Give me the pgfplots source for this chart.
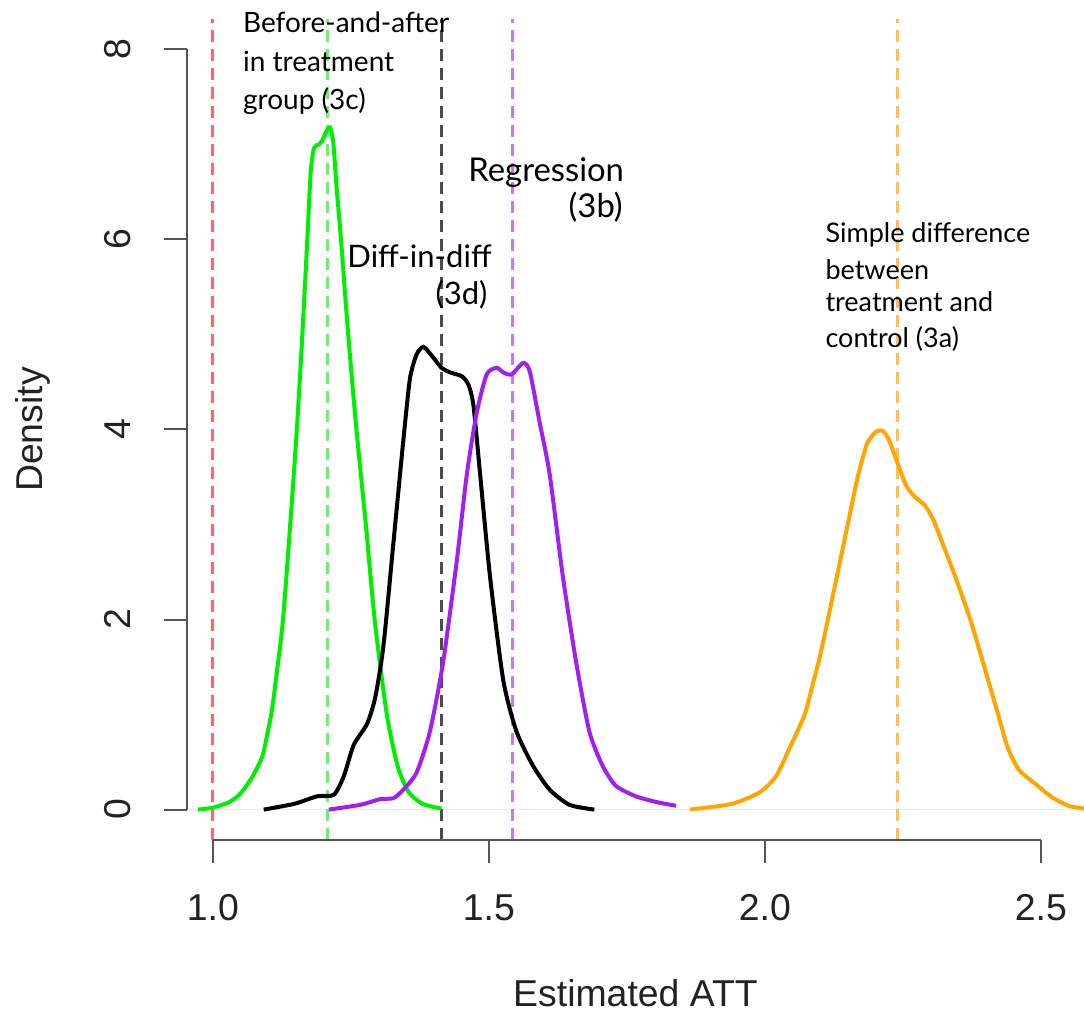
\documentclass[border=0pt]{standalone}
\usepackage{fontspec}
\setmainfont{Liberation Sans}
\newfontfamily\gill{Lato}
\usepackage{pgfplots}
\pgfplotsset{compat=1.18}
\definecolor{rgreen}{HTML}{00EE00}
\definecolor{rpurple}{HTML}{A020F0}
\definecolor{rorange}{HTML}{FFA500}
\definecolor{rred}{HTML}{FF0000}
\definecolor{axgray}{HTML}{555555}
\definecolor{txt}{HTML}{222222}

\begin{document}
\begin{tikzpicture}
\begin{axis}[
  scale only axis, width=448.5pt, height=410.5pt,
  xmin=0.953, xmax=2.578, ymin=-0.32, ymax=8.32,
  axis x line*=bottom, axis y line*=left,
  axis line style={draw=none},
  xtick={1,1.5,2,2.5}, xticklabels={1.0,1.5,2.0,2.5},
  ytick={0,2,4,6,8}, yticklabels={0,2,4,6,8},
  tick align=outside, major tick length=11.5pt,
  tick style={axgray, line width=1pt},
  ticklabel style={font=\fontsize{18.7}{22}\selectfont, text=txt, inner sep=0pt},
  xticklabel style={anchor=base, yshift=-29pt},
  yticklabel style={xshift=-16.5pt, rotate=90, anchor=base},
  xlabel={Estimated ATT}, ylabel={Density},
  label style={font=\fontsize{18.7}{22}\selectfont, text=txt, inner sep=0pt},
  xlabel style={at={([yshift=-83.5pt]rel axis cs:0.5,0)}, anchor=base},
  ylabel style={at={([xshift=-72pt]rel axis cs:0,0.5)}, rotate=0, anchor=base},
  clip mode=individual,
]
% baseline of the density plots
\addplot[black!8, line width=0.8pt] coordinates {(0.953,0) (2.578,0)};

% vertical reference lines
\addplot[rred, opacity=0.6, line width=1.5pt, dash pattern=on 6pt off 3.5pt] coordinates {(1.0,-0.32) (1.0,8.32)};
\addplot[rgreen, opacity=0.6, line width=1.5pt, dash pattern=on 6pt off 3.5pt] coordinates {(1.208,-0.32) (1.208,8.32)};
\addplot[black, opacity=0.7, line width=1.5pt, dash pattern=on 6pt off 3.5pt] coordinates {(1.414,-0.32) (1.414,8.32)};
\addplot[rpurple, opacity=0.6, line width=1.5pt, dash pattern=on 6pt off 3.5pt] coordinates {(1.542,-0.32) (1.542,8.32)};
\addplot[rorange, opacity=0.7, line width=1.5pt, dash pattern=on 6pt off 3.5pt] coordinates {(2.241,-0.32) (2.241,8.32)};

% before-and-after (3c)
\addplot[rgreen, line width=2pt, smooth, tension=0.4] coordinates {
(0.973,0) (1.0,0.02) (1.03,0.08) (1.05,0.17) (1.07,0.33) (1.089,0.55)
(1.098,0.78) (1.107,1.05) (1.117,1.5) (1.127,2.0) (1.14,3.0) (1.152,4.0)
(1.162,5.0) (1.171,6.0) (1.177,6.7) (1.183,6.96) (1.192,7.0) (1.198,7.04)
(1.205,7.13) (1.212,7.18) (1.218,7.02) (1.224,6.55) (1.232,6.0) (1.245,5.0)
(1.26,4.0) (1.277,3.0) (1.293,2.0) (1.315,1.0) (1.335,0.45) (1.355,0.18)
(1.38,0.06) (1.414,0.01)};

% diff-in-diff (3d)
\addplot[black, line width=2pt, smooth, tension=0.4] coordinates {
(1.092,0) (1.147,0.06) (1.189,0.14) (1.219,0.155) (1.237,0.35) (1.255,0.68)
(1.279,0.90) (1.294,1.18) (1.309,1.73) (1.327,2.81) (1.345,3.89) (1.357,4.54)
(1.369,4.79) (1.381,4.87) (1.396,4.78) (1.414,4.65) (1.430,4.60) (1.451,4.56)
(1.463,4.47) (1.472,4.25) (1.484,3.53) (1.502,2.45) (1.526,1.36) (1.550,0.82)
(1.580,0.46) (1.610,0.21) (1.646,0.05) (1.691,0)};

% regression (3b)
\addplot[rpurple, line width=2pt, smooth, tension=0.4] coordinates {
(1.210,0) (1.267,0.05) (1.303,0.11) (1.327,0.12) (1.345,0.21) (1.369,0.39)
(1.393,0.82) (1.417,1.55) (1.442,2.63) (1.460,3.53) (1.478,4.18) (1.496,4.58)
(1.514,4.65) (1.526,4.60) (1.541,4.58) (1.562,4.70) (1.574,4.61) (1.592,4.07)
(1.610,3.53) (1.634,2.45) (1.658,1.55) (1.682,0.82) (1.706,0.46) (1.730,0.25)
(1.766,0.14) (1.803,0.08) (1.839,0.04)};

% simple difference (3a)
\addplot[rorange, line width=2pt, smooth, tension=0.4] coordinates {
(1.864,0) (1.94,0.06) (1.99,0.18) (2.02,0.35) (2.045,0.65) (2.072,1.0)
(2.088,1.35) (2.10,1.62) (2.114,2.0) (2.132,2.5) (2.150,3.0) (2.168,3.5)
(2.185,3.85) (2.200,3.97) (2.212,3.99) (2.224,3.9) (2.24,3.65) (2.255,3.42)
(2.27,3.3) (2.29,3.2) (2.305,3.05) (2.322,2.8) (2.348,2.4) (2.372,2.0)
(2.395,1.55) (2.42,1.05) (2.44,0.65) (2.46,0.42) (2.49,0.27) (2.52,0.13)
(2.55,0.04) (2.578,0.01)};

% annotations
\begin{scope}[every node/.style={inner sep=0pt, text=black}]
\node[anchor=base west, font=\gill\fontsize{14}{16}\selectfont] at (axis cs:1.054,8.177) {Before-and-after};
\node[anchor=base west, font=\gill\fontsize{14}{16}\selectfont] at (axis cs:1.054,7.766) {in treatment};
\node[anchor=base west, font=\gill\fontsize{14}{16}\selectfont] at (axis cs:1.054,7.366) {group (3c)};
\node[anchor=base west, font=\gill\fontsize{16.4}{19}\selectfont] at (axis cs:1.462,6.607) {Regression};
\node[anchor=base east, font=\gill\fontsize{16.4}{19}\selectfont] at (axis cs:1.743,6.228) {(3b)};
\node[anchor=base west, font=\gill\fontsize{15.5}{18}\selectfont] at (axis cs:1.243,5.701) {Diff-in-diff};
\node[anchor=base east, font=\gill\fontsize{15.5}{18}\selectfont] at (axis cs:1.498,5.311) {(3d)};
\node[anchor=base west, font=\gill\fontsize{13.5}{16}\selectfont] at (axis cs:2.109,5.964) {Simple difference};
\node[anchor=base west, font=\gill\fontsize{13.5}{16}\selectfont] at (axis cs:2.109,5.574) {between};
\node[anchor=base west, font=\gill\fontsize{13.5}{16}\selectfont] at (axis cs:2.109,5.237) {treatment and};
\node[anchor=base west, font=\gill\fontsize{13.5}{16}\selectfont] at (axis cs:2.109,4.868) {control (3a)};
\end{scope}

% R-style axis lines spanning the tick range only
\draw[axgray, line width=1pt] (axis cs:1,-0.32) -- (axis cs:2.5,-0.32);
\draw[axgray, line width=1pt] (axis cs:0.953,0) -- (axis cs:0.953,8);
\end{axis}
\pgfresetboundingbox
\path ([xshift=-93.5pt,yshift=-86.5pt]current axis.south west) rectangle ([yshift=9.5pt]current axis.north east);
\end{tikzpicture}
\end{document}
